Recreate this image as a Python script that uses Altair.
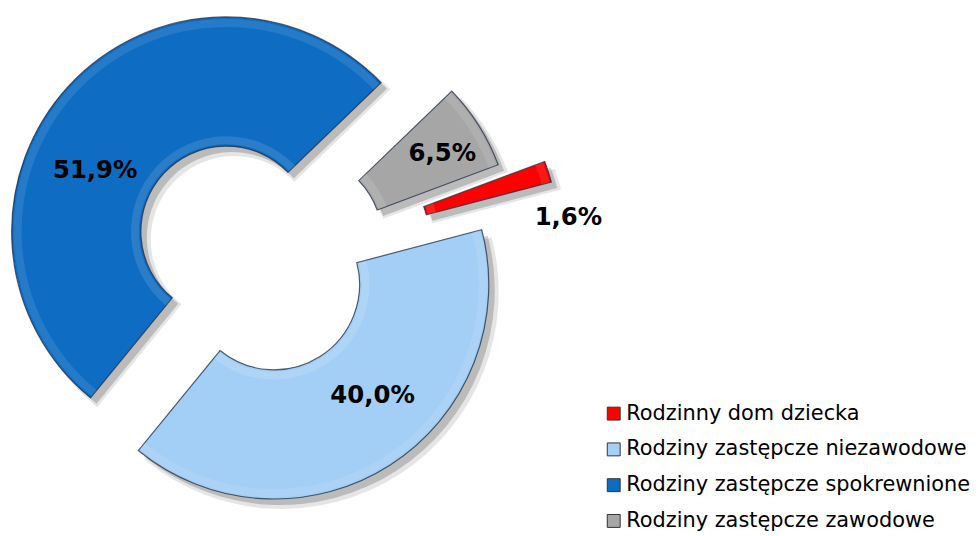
import math
import altair as alt
import pandas as pd

# ---- data ----
categories = [
    "Rodzinny dom dziecka",
    "Rodziny zastępcze niezawodowe",
    "Rodziny zastępcze spokrewnione",
    "Rodziny zastępcze zawodowe",
]
values = [1.6, 40.0, 51.9, 6.5]
labels = ["1,6%", "40,0%", "51,9%", "6,5%"]

# ---- style ----
colors = ["#FF0000", "#A3CEF5", "#0E6CC2", "#A6A6A6"]
explode = [0.407, 0.118, 0.216, 0.202]        # fraction of the outer radius
label_angle = [85.4, 138.5, 294.8, 59.5]       # degrees, clockwise from 12 o'clock
label_dist = [1.05, 0.692, 0.673, 0.785]       # in outer-radius units
ROT = 69.5 * math.pi / 180                     # first slice starts here
R_OUT, R_IN = 216, 86
W, H = 969, 526
CX, CY = 254, 255                              # pie centre in the plot area

df = pd.DataFrame({
    "cat": categories,
    "value": values,
    "label": labels,
    "order": list(range(len(categories))),
    "explode": explode,
    "la": label_angle,
    "ld": label_dist,
})

xs = alt.Scale(domain=[-CX / R_OUT, (W - CX) / R_OUT], nice=False, zero=False)
ys = alt.Scale(domain=[-(H - CY) / R_OUT, CY / R_OUT], nice=False, zero=False)
ts = alt.Scale(domain=[0, 100], range=[ROT, ROT + 2 * math.pi])

base = (
    alt.Chart(df)
    .transform_window(end="sum(value)", sort=[alt.SortField("order")])
    .transform_calculate(start="datum.end - datum.value")
    .transform_calculate(mid=f"{ROT} + (datum.start + datum.end) / 200 * 2 * PI")
    .transform_calculate(
        cx="datum.explode * sin(datum.mid)",
        cy="datum.explode * cos(datum.mid)",
    )
    .transform_calculate(
        lx="datum.cx + datum.ld * sin(datum.la * PI / 180)",
        ly="datum.cy + datum.ld * cos(datum.la * PI / 180)",
    )
)

pos = dict(
    x=alt.X("cx:Q", scale=xs, axis=None),
    y=alt.Y("cy:Q", scale=ys, axis=None),
    theta=alt.Theta("start:Q", scale=ts, stack=None),
    theta2="end:Q",
)

shadow_far = base.mark_arc(
    outerRadius=R_OUT + 2, innerRadius=R_IN - 2, xOffset=8, yOffset=8,
    color="#000000", opacity=0.10,
).encode(**pos)
shadow = base.mark_arc(
    outerRadius=R_OUT, innerRadius=R_IN, xOffset=6, yOffset=6,
    color="#000000", opacity=0.18,
).encode(**pos)

arcs = base.mark_arc(
    outerRadius=R_OUT, innerRadius=R_IN,
    stroke="#1d2b40", strokeWidth=1.2, strokeOpacity=0.75,
).encode(
    color=alt.Color(
        "cat:N",
        scale=alt.Scale(domain=categories, range=colors),
        sort=categories,
        legend=alt.Legend(
            title=None, orient="none", legendX=599, legendY=396,
            symbolType="square", symbolSize=169, symbolStrokeColor="#333333",
            symbolStrokeWidth=1, labelFont="DejaVu Sans", labelFontSize=21,
            labelColor="#000000", labelLimit=600, rowPadding=14, labelOffset=2,
            padding=0,
        ),
    ),
    **pos,
)

# bevel highlights
hl_outer = base.mark_arc(
    outerRadius=R_OUT - 2, innerRadius=R_OUT - 10, color="#ffffff", opacity=0.10,
).encode(**pos)
hl_inner = base.mark_arc(
    outerRadius=R_IN + 10, innerRadius=R_IN + 2, color="#ffffff", opacity=0.12,
).encode(**pos)

text = base.mark_text(
    font="DejaVu Sans", fontSize=24.5, fontWeight="bold", color="#000000",
    align="center", baseline="middle",
).encode(
    x=alt.X("lx:Q", scale=xs, axis=None),
    y=alt.Y("ly:Q", scale=ys, axis=None),
    text="label:N",
)

chart = (
    alt.layer(shadow_far, shadow, arcs, hl_outer, hl_inner, text)
    .properties(width=W, height=H, padding=0, autosize="none")
    .configure_view(strokeWidth=0)
)

chart.save("out.html", embed_options={"renderer": "svg", "actions": False})
